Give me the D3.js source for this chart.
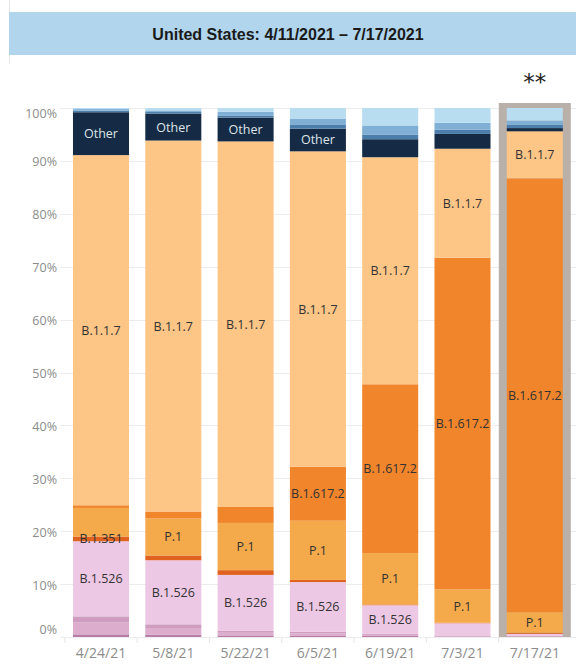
<!DOCTYPE html>
<html>
<head>
<meta charset="utf-8">
<script src="https://cdn.jsdelivr.net/npm/d3@7"></script>
<style>
  html, body { margin: 0; padding: 0; background: #fff; }
  svg { display: block; }
</style>
</head>
<body>
<svg id="chart" width="576" height="666"></svg>
<script>
// ---- Data (percent share of lineages, bottom to top) ----
const dates = ["4/24/21", "5/8/21", "5/22/21", "6/5/21", "6/19/21", "7/3/21", "7/17/21"];
const seriesNames = ["B.1.429", "B.1.427", "B.1.526.1", "B.1.526", "B.1.351", "P.1",
  "B.1.617.2", "B.1.1.7", "Other", "AY.1", "B.1.525", "AY.3"];
const vB1429   = [0.5, 0.4, 0.3, 0.3, 0.2, 0.1, 0.1];
const vB1427   = [2.3, 1.3, 0.5, 0.4, 0.2, 0.1, 0.0];
const vB15261  = [1.1, 0.7, 0.4, 0.3, 0.2, 0.1, 0.0];
const vB1526   = [14.2, 12.1, 10.5, 9.4, 5.4, 2.3, 0.5];
const vB1351   = [0.9, 0.9, 0.9, 0.4, 0.15, 0.1, 0.2];
const vP1      = [5.4, 7.0, 8.9, 11.2, 9.7, 6.3, 3.9];
const vB16172  = [0.5, 1.3, 3.0, 10.2, 31.9, 62.7, 82.0];
const vB117    = [66.2, 70.1, 68.9, 59.7, 42.9, 20.6, 8.9];
const vOther   = [8.1, 5.1, 4.5, 4.3, 3.4, 2.8, 0.6];
const vAY1     = [0.3, 0.3, 0.4, 0.8, 0.9, 0.8, 0.6];
const vB1525   = [0.3, 0.3, 0.7, 1.1, 1.7, 1.3, 0.8];
const vAY3     = [0.2, 0.45, 0.7, 2.0, 3.3, 2.8, 2.4];
const seriesValues = [vB1429, vB1427, vB15261, vB1526, vB1351, vP1, vB16172, vB117, vOther, vAY1, vB1525, vAY3];
const seriesColors = ["#b97ca6", "#dcadcd", "#cf9dc0", "#edc8e4", "#e0621f", "#f4a94a",
  "#f0852c", "#fdc586", "#152b45", "#4c7eac", "#80afd5", "#b8dcf0"];
// which segment labels are shown in each bar
const barLabels = [
  ["B.1.526", "B.1.351", "B.1.1.7", "Other"],
  ["B.1.526", "P.1", "B.1.1.7", "Other"],
  ["B.1.526", "P.1", "B.1.1.7", "Other"],
  ["B.1.526", "P.1", "B.1.617.2", "B.1.1.7", "Other"],
  ["B.1.526", "P.1", "B.1.617.2", "B.1.1.7"],
  ["P.1", "B.1.617.2", "B.1.1.7"],
  ["P.1", "B.1.617.2", "B.1.1.7"]
];
const yTicks = [0, 0.1, 0.2, 0.3, 0.4, 0.5, 0.6, 0.7, 0.8, 0.9, 1.0];
const titleText = "United States: 4/11/2021 \u2013 7/17/2021";
const highlightDate = "7/17/21";

// ---- Build table ----
const table = dates.map((d, i) => {
  const row = { date: d };
  seriesNames.forEach((s, j) => row[s] = seriesValues[j][i]);
  return row;
});
const stacked = d3.stack().keys(seriesNames).offset(d3.stackOffsetExpand)(table);

const svg = d3.select("#chart");
const font = "'Open Sans', 'Noto Sans', sans-serif";

const x = d3.scaleBand().domain(dates).range([64.85, 570.95])
  .paddingInner(0.225).paddingOuter(0.1125);
const y = d3.scaleLinear().domain([0, 1]).range([637, 108]);
const color = d3.scaleOrdinal().domain(seriesNames).range(seriesColors);

// Title band
svg.append("line").attr("x1", 9.5).attr("x2", 9.5).attr("y1", 0).attr("y2", 63)
  .attr("stroke", "#e6e6e6").attr("stroke-width", 1);
svg.append("rect").attr("x", 9).attr("y", 12).attr("width", 567).attr("height", 43)
  .attr("fill", "#b0d5ec");
svg.append("text").attr("x", 288).attr("y", 34).attr("text-anchor", "middle")
  .attr("dominant-baseline", "central")
  .style("font-family", "'Liberation Sans', Arial, sans-serif")
  .style("font-weight", "bold").style("font-size", "16px").attr("fill", "#1a1a1a")
  .text(titleText);

// Gridlines
svg.append("g").selectAll("line").data(yTicks).join("line")
  .attr("x1", 60).attr("x2", 576)
  .attr("y1", d => Math.round(y(d)) + 0.5).attr("y2", d => Math.round(y(d)) + 0.5)
  .attr("stroke", "#ececec").attr("stroke-width", 1);

// Y axis labels
svg.append("g").selectAll("text").data(yTicks).join("text")
  .attr("x", 57).attr("y", d => y(d) + (d === 0 ? -3 : d === 1 ? 9.5 : 5.5))
  .attr("text-anchor", "end")
  .style("font-family", font).style("font-size", "12.5px").attr("fill", "#8c8c8c")
  .text(d => d3.format(".0%")(d));

// Highlight box
svg.append("rect")
  .attr("x", x(highlightDate) - 8).attr("y", 103)
  .attr("width", x.bandwidth() + 16).attr("height", 637 - 103)
  .attr("fill", "#b9b0aa");

// Bars
const layers = svg.append("g").selectAll("g").data(stacked).join("g")
  .attr("fill", d => color(d.key));
layers.selectAll("rect").data(d => d).join("rect")
  .attr("x", d => x(d.data.date))
  .attr("width", x.bandwidth())
  .attr("y", d => y(d[1]))
  .attr("height", d => Math.max(0, y(d[0]) - y(d[1])));

// Segment labels
const labelData = [];
stacked.forEach(layer => {
  layer.forEach((seg, i) => {
    if (barLabels[i].includes(layer.key)) {
      labelData.push({ key: layer.key, date: seg.data.date, mid: (seg[0] + seg[1]) / 2 });
    }
  });
});
svg.append("g").selectAll("text").data(labelData).join("text")
  .attr("x", d => x(d.date) + x.bandwidth() / 2)
  .attr("y", d => y(d.mid))
  .attr("text-anchor", "middle").attr("dominant-baseline", "central")
  .style("font-family", font).style("font-size", "12.5px")
  .attr("fill", d => d.key === "Other" ? "#dfe3e8" : "#333333")
  .text(d => d.key);

// X axis separators
const seps = dates.map(d => x(d) - (x.step() - x.bandwidth()) / 2);
svg.append("g").selectAll("line").data(seps).join("line")
  .attr("x1", d => d).attr("x2", d => d).attr("y1", 638).attr("y2", 643)
  .attr("stroke", "#e6e6e6");

// X labels
svg.append("g").selectAll("text").data(dates).join("text")
  .attr("x", d => x(d) + x.bandwidth() / 2).attr("y", 652)
  .attr("text-anchor", "middle").attr("dominant-baseline", "central")
  .style("font-family", font).style("font-size", "14px").attr("fill", "#8c8c8c")
  .text(d => d);

// Asterisks
svg.append("text").attr("x", x(highlightDate) + x.bandwidth() / 2).attr("y", 90)
  .attr("text-anchor", "middle")
  .style("font-family", "'DejaVu Sans', sans-serif").style("font-size", "23px")
  .attr("fill", "#222").text("**");
</script>
</body>
</html>
